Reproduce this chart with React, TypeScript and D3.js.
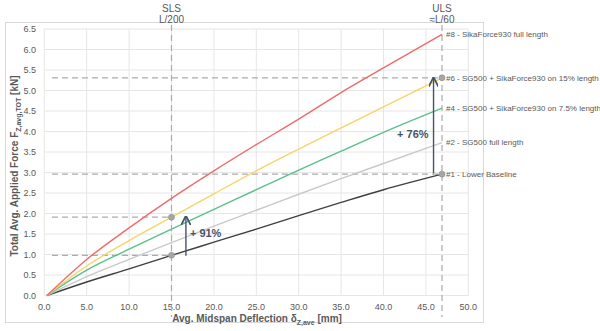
import React from "react";
import * as d3 from "d3";

const deflection = [0.3, 5, 10, 15, 20, 25, 30, 35, 40, 46.9];
const s8 = [0, 0.88, 1.65, 2.37, 3.04, 3.68, 4.3, 4.95, 5.55, 6.37];
const s6 = [0, 0.72, 1.34, 1.91, 2.48, 3.04, 3.57, 4.09, 4.6, 5.31];
const s4 = [0, 0.62, 1.13, 1.62, 2.1, 2.58, 3.06, 3.52, 3.98, 4.57];
const s2 = [0, 0.46, 0.88, 1.29, 1.69, 2.08, 2.47, 2.85, 3.22, 3.73];
const s1 = [0, 0.33, 0.65, 0.98, 1.3, 1.62, 1.95, 2.27, 2.58, 2.96];
const seriesNames = [
  "#8 - SikaForce930 full length",
  "#6 - SG500 + SikaForce930 on 15% length",
  "#4 - SG500 + SikaForce930 on 7.5% length",
  "#2 - SG500 full length",
  "#1 - Lower Baseline",
];
const seriesColors = ["#ef6b6b", "#f8d465", "#5cbf8a", "#c9c9c9", "#3f3f3f"];
const xTicks = [0, 5, 10, 15, 20, 25, 30, 35, 40, 45, 50];
const yTicks = [0, 0.5, 1, 1.5, 2, 2.5, 3, 3.5, 4, 4.5, 5, 5.5, 6, 6.5];
const slsX = 15;
const ulsX = 46.9;
const markerPoints = [
  [15, 0.98],
  [15, 1.91],
  [46.9, 2.96],
  [46.9, 5.31],
];
const hDashes = [
  [0.9, 15, 0.98],
  [0.9, 15, 1.91],
  [0.9, 46.9, 2.96],
  [0.9, 46.9, 5.31],
];
const arrows = [
  { x: 16.7, y0: 0.97, y1: 1.9, label: "+ 91%" },
  { x: 45.9, y0: 2.98, y1: 5.28, label: "+ 76%" },
];

export default function App() {
  const x = d3.scaleLinear().domain([0, 50]).range([44.3, 468.3]);
  const y = d3.scaleLinear().domain([0, 6.5]).range([295.5, 29]);
  const all = [s8, s6, s4, s2, s1];
  const line = d3
    .line<number>()
    .x((_, i) => x(deflection[i]))
    .y((d) => y(d))
    .curve(d3.curveMonotoneX);
  const font = "Liberation Sans, Arial, sans-serif";
  const txt = "#595959";
  const dash = "#ababab";
  const arrowCol = "#44546a";
  return (
    <svg
      width={600}
      height={331}
      style={{ position: "absolute", left: 0, top: 0, background: "#fff" }}
      fontFamily={font}
    >
      <defs>
        <marker id="ah" viewBox="0 0 10 10" refX="8" refY="5" markerWidth="7" markerHeight="7" orient="auto">
          <path d="M0,0 L10,5 L0,10" fill="none" stroke={arrowCol} strokeWidth={1.8} />
        </marker>
      </defs>
      <rect x={5.5} y={22.5} width={478} height={300} fill="none" stroke="#d9d9d9" strokeWidth={1} />
      {xTicks.map((t) => (
        <line key={"gx" + t} x1={x(t)} x2={x(t)} y1={y(6.5)} y2={y(0)} stroke="#e6e6e6" strokeWidth={1} />
      ))}
      {yTicks.map((t) => (
        <line key={"gy" + t} x1={x(0)} x2={x(50)} y1={y(t)} y2={y(t)} stroke="#e6e6e6" strokeWidth={1} />
      ))}
      {yTicks.map((t) => (
        <text key={"ty" + t} x={36} y={y(t)} dy="0.35em" textAnchor="end" fontSize={9} fill={txt}>
          {t.toFixed(1)}
        </text>
      ))}
      {xTicks.map((t) => (
        <text key={"tx" + t} x={x(t)} y={307} dy="0.35em" textAnchor="middle" fontSize={9} fill={txt}>
          {t.toFixed(1)}
        </text>
      ))}
      {[slsX, ulsX].map((v) => (
        <line key={"vd" + v} x1={x(v)} x2={x(v)} y1={25} y2={317} stroke={dash} strokeWidth={1.2} strokeDasharray="6,4" />
      ))}
      {hDashes.map(([a, b, v], i) => (
        <line key={"hd" + i} x1={x(a)} x2={x(b)} y1={y(v)} y2={y(v)} stroke={dash} strokeWidth={1.2} strokeDasharray="6,4" />
      ))}
      {all
        .slice()
        .reverse()
        .map((s, ri) => {
          const i = all.length - 1 - ri;
          return <path key={"s" + i} d={line(s) || ""} fill="none" stroke={seriesColors[i]} strokeWidth={1.4} />;
        })}
      {markerPoints.map(([a, b], i) => (
        <circle key={"m" + i} cx={x(a)} cy={y(b)} r={3} fill="#a6a6a6" stroke="#8c8c8c" strokeWidth={0.6} />
      ))}
      {all.map((s, i) => (
        <text key={"l" + i} x={x(ulsX) + 4} y={y(s[s.length - 1])} dy="0.35em" fontSize={8} fill={txt}>
          {seriesNames[i]}
        </text>
      ))}
      {arrows.map((a, i) => (
        <line key={"a" + i} x1={x(a.x)} x2={x(a.x)} y1={y(a.y0)} y2={y(a.y1)} stroke={arrowCol} strokeWidth={1.4} markerEnd="url(#ah)" />
      ))}
      <text x={x(arrows[0].x) + 4} y={233} dy="0.35em" fontSize={11} fontWeight="bold" fill={arrowCol}>
        {arrows[0].label}
      </text>
      <text x={x(arrows[1].x) - 5} y={134} dy="0.35em" textAnchor="end" fontSize={11} fontWeight="bold" fill={arrowCol}>
        {arrows[1].label}
      </text>
      <text x={x(slsX)} y={8} dy="0.35em" textAnchor="middle" fontSize={10} fill={txt}>SLS</text>
      <text x={x(slsX)} y={19} dy="0.35em" textAnchor="middle" fontSize={10} fill={txt}>L/200</text>
      <text x={x(ulsX)} y={8} dy="0.35em" textAnchor="middle" fontSize={10} fill={txt}>ULS</text>
      <text x={x(ulsX)} y={19} dy="0.35em" textAnchor="middle" fontSize={10} fill={txt}>≈L/60</text>
      <text x={257} y={318} dy="0.35em" textAnchor="middle" fontSize={10} fontWeight="bold" fill={txt}>
        Avg. Midspan Deflection δ
        <tspan fontSize={7} dy="3">Z,ave</tspan>
        <tspan dy="-3"> [mm]</tspan>
      </text>
      <text
        transform={`translate(14,166) rotate(-90)`}
        textAnchor="middle"
        dy="0.35em"
        fontSize={10}
        fontWeight="bold"
        fill={txt}
      >
        Total Avg. Applied Force F
        <tspan fontSize={7} dy="3">Z,avg,TOT</tspan>
        <tspan dy="-3"> [kN]</tspan>
      </text>
    </svg>
  );
}
